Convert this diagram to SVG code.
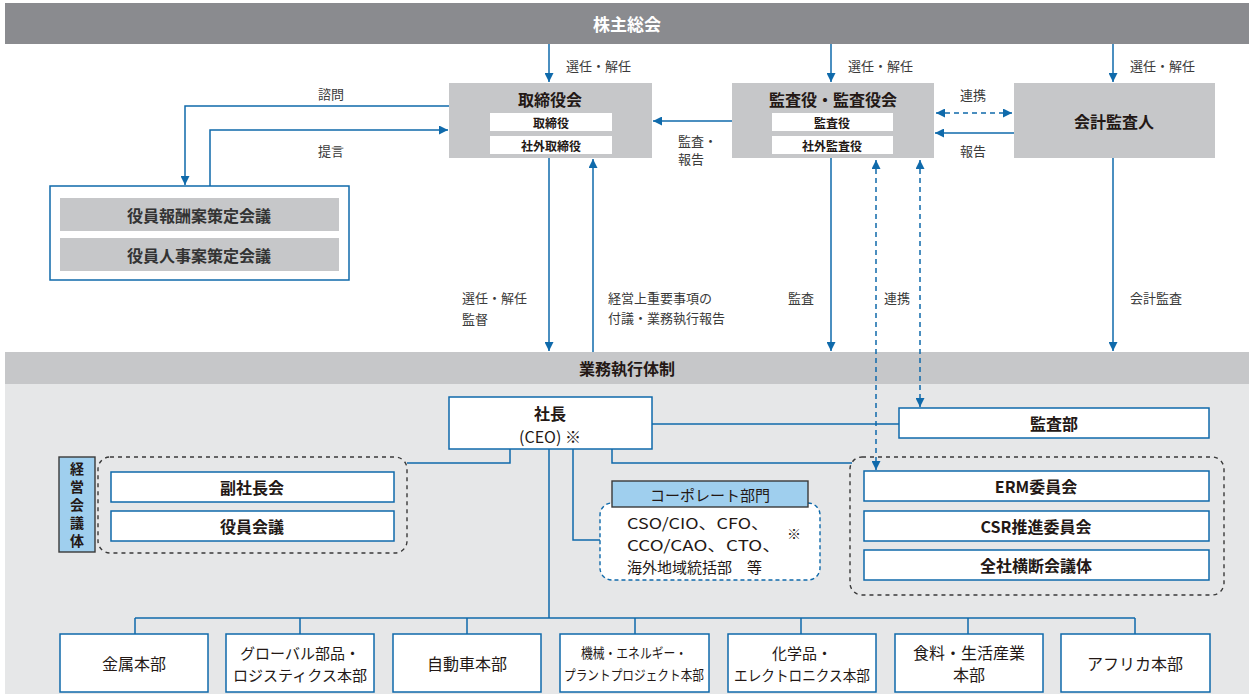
<svg xmlns="http://www.w3.org/2000/svg" width="1254" height="699" viewBox="0 0 1254 699">
<defs>
<marker id="ah" viewBox="0 0 10 10" refX="10" refY="5" markerWidth="9" markerHeight="9" markerUnits="userSpaceOnUse" orient="auto-start-reverse"><path d="M0,0 L10,5 L0,10 z" fill="#0f6aab"/></marker>
<style>
text{font-family:"Noto Sans CJK JP","Noto Sans",sans-serif;fill:#231815;text-anchor:middle;dominant-baseline:central}
.lbl{font-size:13px;text-anchor:start;fill:#3a3a3a}
.ln{fill:none;stroke:#0f6aab;stroke-width:1.5}
.dln{fill:none;stroke:#0f6aab;stroke-width:1.5;stroke-dasharray:5 4}
.gbox{fill:#c6c7c9}
.wbox{fill:#fff}
.bbox{fill:#fff;stroke:#0f6aab;stroke-width:1.5}
.hd{font-size:16px;font-weight:bold}
.sm{font-size:12px;font-weight:bold}
.bx{font-size:16px}
.bx2{font-size:15px}
.grp{fill:none;stroke:#3a3a3a;stroke-width:1.4;stroke-dasharray:4 4}
.lb{fill:#9fcfee;stroke:#3a3a3a;stroke-width:1.4}
.vt{font-size:14px;font-weight:bold}
.cp{font-size:15px;text-anchor:start}
</style>
</defs>
<rect x="0" y="0" width="1254" height="699" fill="#fff"/>
<g id="shareholders">
<rect x="5" y="3" width="1244" height="41" fill="#8a8b8f"/>
<text x="627" y="23" style="fill:#fff;font-size:17px;font-weight:bold">株主総会</text>
</g>
<g id="exec-bg">
<rect x="5" y="384" width="1244" height="310" fill="#e6e7e8"/>
</g>
<g id="exec-bar">
<rect x="5" y="352" width="1244" height="32" fill="#c6c7c9"/>
<text x="627" y="368" style="font-size:16px;font-weight:bold">業務執行体制</text>
</g>
<g id="board">
<rect class="gbox" x="449" y="83" width="203" height="75"/>
<text class="hd" x="550" y="99">取締役会</text>
<rect class="wbox" x="490" y="113" width="122" height="18"/>
<text class="sm" x="551" y="122">取締役</text>
<rect class="wbox" x="490" y="136" width="122" height="18"/>
<text class="sm" x="551" y="145">社外取締役</text>
</g>
<g id="auditors">
<rect class="gbox" x="732" y="83" width="202" height="75"/>
<text class="hd" x="833" y="99">監査役・監査役会</text>
<rect class="wbox" x="772" y="113" width="121" height="18"/>
<text class="sm" x="832" y="122">監査役</text>
<rect class="wbox" x="772" y="136" width="121" height="18"/>
<text class="sm" x="832" y="145">社外監査役</text>
</g>
<g id="accounting-auditor">
<rect class="gbox" x="1014" y="83" width="201" height="75"/>
<text class="hd" x="1114" y="121">会計監査人</text>
</g>
<g id="committees">
<rect class="bbox" x="50" y="186" width="299" height="94"/>
<rect class="gbox" x="60" y="198" width="279" height="33"/>
<text x="199" y="215" style="font-size:16px;font-weight:bold;fill:#333">役員報酬案策定会議</text>
<rect class="gbox" x="60" y="238" width="279" height="33"/>
<text x="199" y="255" style="font-size:16px;font-weight:bold;fill:#333">役員人事案策定会議</text>
</g>
<g id="ceo">
<rect class="bbox" x="449" y="397" width="203" height="52"/>
<text class="bx" x="550" y="413" style="font-weight:bold">社長</text>
<text class="bx" x="550" y="436">(CEO) ※</text>
</g>
<g id="audit-dept">
<rect class="bbox" x="899" y="408" width="310" height="30"/>
<text class="bx" x="1054" y="423" style="font-weight:bold">監査部</text>
</g>
<g id="mgmt-meetings">
<rect class="lb" x="59" y="457" width="36" height="95"/>
<text class="vt" x="77" y="468">経</text>
<text class="vt" x="77" y="486">営</text>
<text class="vt" x="77" y="504">会</text>
<text class="vt" x="77" y="522">議</text>
<text class="vt" x="77" y="540">体</text>
<rect class="grp" x="98" y="457" width="309" height="96" rx="12"/>
<rect class="bbox" x="111" y="472" width="283" height="30"/>
<text class="bx" x="252" y="487" style="font-weight:bold">副社長会</text>
<rect class="bbox" x="111" y="511" width="283" height="30"/>
<text class="bx" x="252" y="526" style="font-weight:bold">役員会議</text>
</g>
<g id="corporate">
<rect x="600" y="503" width="220" height="77" rx="12" fill="#fff" stroke="#0f6aab" stroke-width="1.4" stroke-dasharray="4 3"/>
<rect class="lb" x="612" y="481" width="196" height="26"/>
<text x="710" y="494" style="font-size:15px">コーポレート部門</text>
<text class="cp" x="627" y="522" textLength="142" lengthAdjust="spacingAndGlyphs">CSO/CIO、CFO、</text>
<text class="cp" x="627" y="544" textLength="154" lengthAdjust="spacingAndGlyphs">CCO/CAO、CTO、</text>
<text class="cp" x="627" y="566">海外地域統括部　等</text>
<text x="794" y="533" style="font-size:14px">※</text>
</g>
<g id="committees-exec">
<rect class="grp" x="850" y="457" width="374" height="138" rx="12"/>
<rect class="bbox" x="864" y="471" width="345" height="30"/>
<text class="bx" x="1036" y="486" style="font-weight:bold">ERM委員会</text>
<rect class="bbox" x="864" y="511" width="345" height="30"/>
<text class="bx" x="1036" y="526" style="font-weight:bold">CSR推進委員会</text>
<rect class="bbox" x="864" y="550" width="345" height="30"/>
<text class="bx" x="1036" y="565" style="font-weight:bold">全社横断会議体</text>
</g>
<g id="divisions">
<rect class="bbox" x="60" y="634" width="148" height="58"/>
<text class="bx" x="134" y="663">金属本部</text>
<rect class="bbox" x="226" y="634" width="148" height="58"/>
<text class="bx2" x="300" y="652">グローバル部品・</text>
<text class="bx2" x="300" y="674" textLength="134" lengthAdjust="spacingAndGlyphs">ロジスティクス本部</text>
<rect class="bbox" x="393" y="634" width="148" height="58"/>
<text class="bx" x="467" y="663">自動車本部</text>
<rect class="bbox" x="560" y="634" width="149" height="58"/>
<text x="634" y="652" style="font-size:14px" textLength="106" lengthAdjust="spacingAndGlyphs">機械・エネルギー・</text>
<text x="634" y="674" style="font-size:14px" textLength="140" lengthAdjust="spacingAndGlyphs">プラントプロジェクト本部</text>
<rect class="bbox" x="728" y="634" width="148" height="58"/>
<text class="bx2" x="802" y="652">化学品・</text>
<text class="bx2" x="802" y="674" textLength="136" lengthAdjust="spacingAndGlyphs">エレクトロニクス本部</text>
<rect class="bbox" x="895" y="634" width="148" height="58"/>
<text class="bx" x="969" y="652">食料・生活産業</text>
<text class="bx" x="969" y="674">本部</text>
<rect class="bbox" x="1061" y="634" width="149" height="58"/>
<text class="bx" x="1135" y="663">アフリカ本部</text>
</g>
<g id="connectors">
<line class="ln" x1="549" y1="44" x2="549" y2="82" marker-end="url(#ah)"/>
<line class="ln" x1="831" y1="44" x2="831" y2="82" marker-end="url(#ah)"/>
<line class="ln" x1="1113" y1="44" x2="1113" y2="82" marker-end="url(#ah)"/>
<line class="ln" x1="732" y1="121" x2="653" y2="121" marker-end="url(#ah)"/>
<line class="dln" x1="936" y1="113" x2="1012" y2="113" marker-start="url(#ah)" marker-end="url(#ah)"/>
<line class="ln" x1="1014" y1="133" x2="935" y2="133" marker-end="url(#ah)"/>
<polyline class="ln" points="449,106 185,106 185,185" marker-end="url(#ah)"/>
<polyline class="ln" points="210,186 210,130 448,130" marker-end="url(#ah)"/>
<line class="ln" x1="549" y1="158" x2="549" y2="351" marker-end="url(#ah)"/>
<line class="ln" x1="593" y1="352" x2="593" y2="159" marker-end="url(#ah)"/>
<line class="ln" x1="831" y1="158" x2="831" y2="351" marker-end="url(#ah)"/>
<line class="ln" x1="1113" y1="158" x2="1113" y2="351" marker-end="url(#ah)"/>
<line class="dln" x1="876" y1="160" x2="876" y2="470" marker-start="url(#ah)" marker-end="url(#ah)"/>
<line class="dln" x1="920" y1="160" x2="920" y2="407" marker-start="url(#ah)" marker-end="url(#ah)"/>
<line class="ln" x1="652" y1="424" x2="899" y2="424"/>
<polyline class="ln" points="510,449 510,463 407,463"/>
<polyline class="ln" points="612,449 612,463 852,463"/>
<polyline class="ln" points="573,449 573,540 600,540"/>
<line class="ln" x1="549" y1="449" x2="549" y2="618"/>
<line class="ln" x1="135" y1="618" x2="1135" y2="618"/>
<path class="ln" d="M135,618V634M300,618V634M467,618V634M635,618V634M801,618V634M968,618V634M1135,618V634"/>
</g>
<g id="labels">
<text class="lbl" x="566" y="65">選任・解任</text>
<text class="lbl" x="848" y="65">選任・解任</text>
<text class="lbl" x="1130" y="65">選任・解任</text>
<text class="lbl" x="318" y="93">諮問</text>
<text class="lbl" x="318" y="150">提言</text>
<text class="lbl" x="678" y="140">監査・</text>
<text class="lbl" x="678" y="158">報告</text>
<text class="lbl" x="960" y="94">連携</text>
<text class="lbl" x="960" y="150">報告</text>
<text class="lbl" x="462" y="297">選任・解任</text>
<text class="lbl" x="462" y="318">監督</text>
<text class="lbl" x="608" y="297">経営上重要事項の</text>
<text class="lbl" x="608" y="317">付議・業務執行報告</text>
<text class="lbl" x="788" y="297">監査</text>
<text class="lbl" x="884" y="297">連携</text>
<text class="lbl" x="1130" y="297">会計監査</text>
</g>
</svg>
